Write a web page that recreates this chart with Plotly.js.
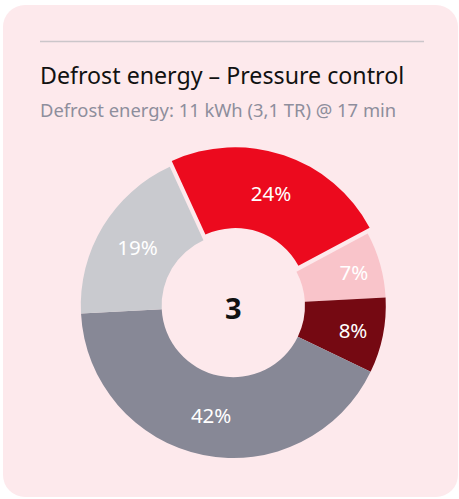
<!DOCTYPE html>
<html>
<head>
<meta charset="utf-8">
<script src="https://cdn.plot.ly/plotly-3.0.1.min.js"></script>
<style>
  html, body { margin: 0; padding: 0; background: #ffffff; }
  .card {
    position: absolute; left: 3px; top: 5px; width: 455px; height: 492px;
    background: #fde9ec; border-radius: 22px;
  }
  #chart { position: absolute; left: 0; top: 0; width: 459px; height: 499px; }
</style>
</head>
<body>
<div class="card"></div>
<div id="chart"></div>
<script>
const chartTitle = "Defrost energy – Pressure control";
const chartSubtitle = "Defrost energy: 11 kWh (3,1 TR) @ 17 min";
const centerLabel = "3";

const sliceNames = ["Part A", "Part B", "Part C", "Part D", "Part E"];
const sliceValues = [24, 7, 8, 42, 19];
const sliceColors = ["#ec0a1e", "#f9c4ca", "#750912", "#878896", "#c9cacf"];
const slicePull = [0.04, 0, 0, 0, 0];

const W = 459, H = 499;
const FONT = "'Noto Sans', 'Open Sans', sans-serif";

// pie geometry in px, converted to paper units
const cx = 233.3, cy = 305.5, r = 152.5;
const half = r * (1 + 0.04);

function px(x) { return x / W; }
function py(y) { return 1 - y / H; }

Plotly.newPlot(
  "chart",
  [
    {
      type: "pie",
      values: sliceValues,
      labels: sliceNames,
      marker: { colors: sliceColors, line: { width: 0 } },
      pull: slicePull,
      hole: 0.47,
      sort: false,
      direction: "clockwise",
      rotation: -24.6,
      texttemplate: "%{value}%",
      textposition: "inside",
      insidetextorientation: "horizontal",
      textfont: { family: FONT, size: 20.5, color: "#ffffff" },
      showlegend: false,
      hoverinfo: "skip",
      domain: {
        x: [px(cx - half), px(cx + half)],
        y: [py(cy + half), py(cy - half)]
      }
    }
  ],
  {
    width: W,
    height: H,
    paper_bgcolor: "rgba(0,0,0,0)",
    plot_bgcolor: "rgba(0,0,0,0)",
    margin: { l: 0, r: 0, t: 0, b: 0 },
    shapes: [
      {
        type: "line", xref: "paper", yref: "paper",
        x0: px(40), x1: px(424), y0: py(41.5), y1: py(41.5),
        line: { color: "#cbc6ca", width: 1.5 }
      }
    ],
    annotations: [
      {
        text: chartTitle, xref: "paper", yref: "paper",
        x: px(38), y: py(75), xanchor: "left", yanchor: "middle",
        showarrow: false, font: { family: FONT, size: 23.2, color: "#111111" }
      },
      {
        text: chartSubtitle, xref: "paper", yref: "paper",
        x: px(38), y: py(109), xanchor: "left", yanchor: "middle",
        showarrow: false, font: { family: FONT, size: 18.4, color: "#8e8e9c" }
      },
      {
        text: "<b>" + centerLabel + "</b>", xref: "paper", yref: "paper",
        x: px(233.5), y: py(307), xanchor: "center", yanchor: "middle",
        showarrow: false, font: { family: FONT, size: 29, color: "#111111" }
      }
    ]
  },
  { displayModeBar: false, staticPlot: true }
);
</script>
</body>
</html>
